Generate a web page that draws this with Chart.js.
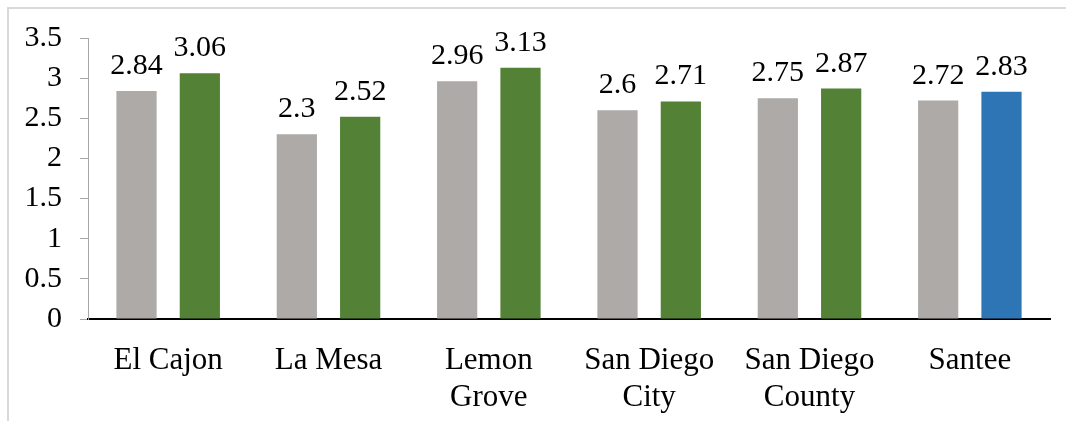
<!DOCTYPE html>
<html>
<head>
<meta charset="utf-8">
<script src="https://cdn.jsdelivr.net/npm/chart.js@4"></script>
<style>
  html, body { margin: 0; padding: 0; background: #fff; overflow: hidden; }
  #frame { position: absolute; left: 7px; top: 7px; width: 1080px; height: 440px; border: 2px solid #d9d9d9; box-sizing: border-box; }
  #chart { position: absolute; left: 0; top: 0; }
</style>
</head>
<body>
<div id="frame"></div>
<canvas id="chart" width="1066" height="421"></canvas>
<script>
// values
const categories = [['El Cajon'], ['La Mesa'], ['Lemon', 'Grove'], ['San Diego', 'City'], ['San Diego', 'County'], ['Santee']];
const seriesA = [2.84, 2.3, 2.96, 2.6, 2.75, 2.72];
const seriesB = [3.06, 2.52, 3.13, 2.71, 2.87, 2.83];
const yMin = 0, yMax = 3.5, yStep = 0.5;

const grey = '#adaaa8';
const green = '#538135';
const blue = '#2e75b6';
const serif = '"Liberation Serif", "Times New Roman", serif';

// last green bar is blue in the original
const seriesBColors = seriesB.map((v, i) => i === seriesB.length - 1 ? blue : green);

const valueLabels = {
    id: 'valueLabels',
    afterDatasetsDraw(chart) {
        const ctx = chart.ctx;
        ctx.save();
        ctx.font = '30px ' + serif;
        ctx.fillStyle = '#000';
        ctx.textAlign = 'center';
        ctx.textBaseline = 'alphabetic';
        chart.data.datasets.forEach((ds, di) => {
            chart.getDatasetMeta(di).data.forEach((bar, i) => {
                ctx.fillText(String(ds.data[i]), bar.x, bar.y - 17);
            });
        });
        ctx.restore();
    }
};

const ctx = document.getElementById('chart').getContext('2d');
new Chart(ctx, {
    type: 'bar',
    data: {
        labels: categories,
        datasets: [
            { label: 'Series 1', data: seriesA, backgroundColor: grey },
            { label: 'Series 2', data: seriesB, backgroundColor: seriesBColors }
        ]
    },
    options: {
        responsive: false,
        animation: false,
        categoryPercentage: 0.79,
        barPercentage: 0.635,
        layout: { padding: { top: 38, right: 16, left: 0, bottom: 0 } },
        plugins: { legend: { display: false }, tooltip: { enabled: false } },
        scales: {
            x: {
                grid: { display: false, drawTicks: false },
                border: { display: true, color: '#000', width: 2 },
                ticks: { color: '#000', padding: 24, font: { family: serif, size: 31, lineHeight: 1.18 }, maxRotation: 0, autoSkip: false },
                afterFit(scale) { scale.height = 102; }
            },
            y: {
                min: yMin,
                max: yMax,
                grid: { display: true, drawOnChartArea: false, drawTicks: true, tickLength: 8, color: '#a6a6a6' },
                border: { display: true, color: '#a6a6a6', width: 1 },
                ticks: {
                    stepSize: yStep, color: '#000', padding: 18, font: { family: serif, size: 30 },
                    callback: v => String(v)
                },
                afterFit(scale) { scale.width = 88; }
            }
        }
    },
    plugins: [valueLabels]
});
</script>
</body>
</html>
